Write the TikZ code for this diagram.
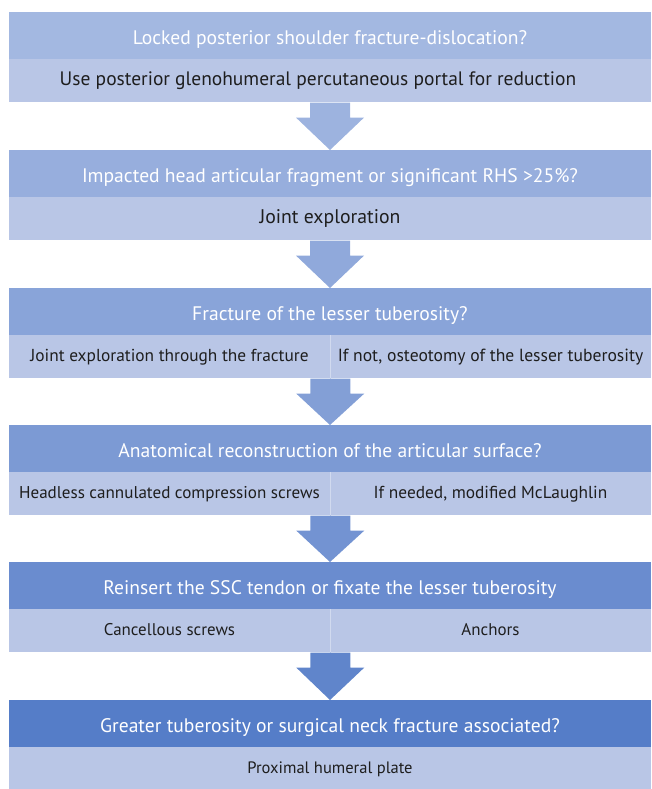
\documentclass[tikz,border=0pt]{standalone}
\usepackage{fontspec}
\setmainfont{PT Sans}
\usetikzlibrary{positioning,calc}

\definecolor{headA}{HTML}{A3B8E1}
\definecolor{headB}{HTML}{97AEDD}
\definecolor{headC}{HTML}{89A4D9}
\definecolor{headD}{HTML}{7C9AD4}
\definecolor{headE}{HTML}{6A8CCF}
\definecolor{headF}{HTML}{557DC8}
\definecolor{bodyfill}{HTML}{B9C6E6}
\definecolor{bodytext}{HTML}{1E1E1E}

\tikzset{
  head/.style={fill=#1, minimum width=481.5pt, minimum height=34.9pt, inner sep=0pt,
    text=white, font=\fontsize{14.7}{18}\selectfont, text height=14pt, text depth=0pt, anchor=north},
  body/.style={fill=bodyfill, minimum width=481.5pt, minimum height=32.25pt, inner sep=0pt,
    text=bodytext, text height=10pt, text depth=3.25pt},
  half/.style={body, minimum width=240.75pt},
  divider/.style={draw=white!35!bodyfill, line width=0.75pt},
}

% block arrow: start point, tip, colour
\newcommand{\flowarrow}[3]{%
  \fill[#3] ($(#1)+(-20,0)$) -- ($(#1)+(20,0)$) -- ($(#1)+(20,15)$) -- ($(#1)+(34,15)$)
    -- (#2) -- ($(#1)+(-34,15)$) -- ($(#1)+(-20,15)$) -- cycle;}

\begin{document}
\begin{tikzpicture}[x=0.75pt, y=-0.75pt]
  \useasboundingbox (0,0) rectangle (651,789);

  % Boxes
  \node[head=headA] (h1) at (330,12) {Locked posterior shoulder fracture-dislocation?};
  \node[body, below=0pt of h1, font=\fontsize{14.6}{18}\selectfont] (b1)
    {Use posterior glenohumeral percutaneous portal for reduction\kern18pt};

  \node[head=headB] (h2) at (330,150) {Impacted head articular fragment or significant RHS >25\%?};
  \node[body, below=0pt of h2, font=\fontsize{14.8}{18}\selectfont] (b2) {Joint exploration};

  \node[head=headC] (h3) at (330,288) {Fracture of the lesser tuberosity?};
  \node[half, anchor=north west, font=\fontsize{13}{16}\selectfont] (b3l) at (h3.south west)
    {Joint exploration through the fracture};
  \node[half, anchor=north east, font=\fontsize{13.2}{16}\selectfont] (b3r) at (h3.south east)
    {If not, osteotomy of the lesser tuberosity};
  \draw[divider] (b3l.north east) -- (b3l.south east);

  \node[head=headD] (h4) at (330,425) {Anatomical reconstruction of the articular surface?};
  \node[half, anchor=north west, font=\fontsize{12.8}{16}\selectfont] (b4l) at (h4.south west)
    {Headless cannulated compression screws};
  \node[half, anchor=north east, font=\fontsize{13}{16}\selectfont] (b4r) at (h4.south east)
    {If needed, modified McLaughlin};
  \draw[divider] (b4l.north east) -- (b4l.south east);

  \node[head=headE] (h5) at (330,562) {Reinsert the SSC tendon or fixate the lesser tuberosity};
  \node[half, anchor=north west, font=\fontsize{12.7}{16}\selectfont] (b5l) at (h5.south west)
    {Cancellous screws};
  \node[half, anchor=north east, font=\fontsize{12.7}{16}\selectfont] (b5r) at (h5.south east)
    {Anchors};
  \draw[divider] (b5l.north east) -- (b5l.south east);

  \node[head=headF] (h6) at (330,700) {Greater tuberosity or surgical neck fracture associated?};
  \node[body, below=0pt of h6, font=\fontsize{12.4}{15}\selectfont] (b6) {Proximal humeral plate};

  % Arrows
  \flowarrow{b1.south}{h2.north}{headA!50!headB}
  \flowarrow{b2.south}{h3.north}{headB!50!headC}
  \flowarrow{b3l.south east}{h4.north}{headC!50!headD}
  \flowarrow{b4l.south east}{h5.north}{headD!50!headE}
  \flowarrow{b5l.south east}{h6.north}{headE!50!headF}
\end{tikzpicture}
\end{document}
